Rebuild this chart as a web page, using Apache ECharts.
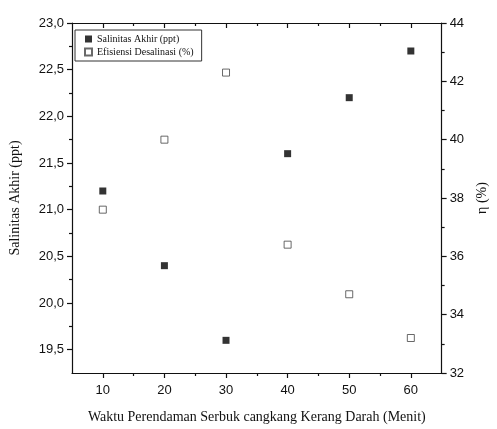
<!DOCTYPE html>
<html>
<head>
<meta charset="utf-8">
<script src="https://cdn.jsdelivr.net/npm/echarts@6/dist/echarts.min.js"></script>
<style>
  html, body { margin: 0; padding: 0; background: #fff; }
  #chart { width: 497px; height: 429px; }
</style>
</head>
<body>
<div id="chart"></div>
<script>
const waktu = [10, 20, 30, 40, 50, 60];
const salinitas = [21.2, 20.4, 19.6, 21.6, 22.2, 22.7];
const efisiensi = [37.6, 40.0, 42.3, 36.4, 34.7, 33.2];

const xMajor = [10, 20, 30, 40, 50, 60];
const xMinor = [15, 25, 35, 45, 55];
const leftMajor = [19.5, 20, 20.5, 21, 21.5, 22, 22.5, 23];
const leftMinor = [19.75, 20.25, 20.75, 21.25, 21.75, 22.25, 22.75];
const rightMajor = [32, 34, 36, 38, 40, 42, 44];
const rightMinor = [33, 35, 37, 39, 41, 43];

const sans = "Liberation Sans";
const serif = "Liberation Serif";
const ink = "#111";

function xAxisDef(position, ticks, len, inside, showLine, labels) {
  return {
    type: "value",
    position,
    min: 5,
    max: 65,
    axisLine: { show: showLine, onZero: false, lineStyle: { color: ink, width: 1.2 } },
    axisTick: { show: true, inside, length: len, customValues: ticks, lineStyle: { color: ink, width: 1.2 } },
    axisLabel: labels
      ? { show: true, customValues: labels, color: ink, fontFamily: sans, fontSize: 13, margin: 11 }
      : { show: false },
    splitLine: { show: false },
  };
}

function yAxisDef(position, min, max, ticks, len, showLine, labels, fmt) {
  return {
    type: "value",
    position,
    min,
    max,
    axisLine: { show: showLine, onZero: false, lineStyle: { color: ink, width: 1.2 } },
    axisTick: { show: true, inside: false, length: len, customValues: ticks, lineStyle: { color: ink, width: 1.2 } },
    axisLabel: labels
      ? { show: true, customValues: labels, color: ink, fontFamily: sans, fontSize: 13, margin: 8, formatter: fmt }
      : { show: false },
    splitLine: { show: false },
  };
}

const chart = echarts.init(document.getElementById("chart"), null, { renderer: "canvas" });

const xAxes = [
  Object.assign(xAxisDef("bottom", xMajor, 5, false, true, xMajor), {
    name: "Waktu Perendaman Serbuk cangkang Kerang Darah (Menit)",
    nameLocation: "middle",
    nameGap: 37,
    nameTextStyle: { color: ink, fontFamily: serif, fontSize: 14 },
  }),
  xAxisDef("bottom", xMinor, 3, false, false, null),
  xAxisDef("top", xMajor, 5, true, true, null),
  xAxisDef("top", xMinor, 3, true, false, null),
];

const yAxes = [
  Object.assign(
    yAxisDef("left", 19.25, 23, leftMajor, 5, true, leftMajor, (v) => v.toFixed(1).replace(".", ",")),
    {
      name: "Salinitas Akhir (ppt)",
      nameLocation: "middle",
      nameRotate: 90,
      nameGap: 50,
      nameTextStyle: { color: ink, fontFamily: serif, fontSize: 14 },
    }
  ),
  yAxisDef("left", 19.25, 23, leftMinor, 3, false, null),
  Object.assign(
    yAxisDef("right", 32, 44, rightMajor, 5, true, rightMajor, (v) => String(v)),
    {
      name: "η (%)",
      nameLocation: "middle",
      nameRotate: 90,
      nameGap: 30,
      nameTextStyle: { color: ink, fontFamily: serif, fontSize: 14 },
    }
  ),
  yAxisDef("right", 32, 44, rightMinor, 3, false, null),
];

chart.setOption({
  animation: false,
  backgroundColor: "#fff",
  grid: { left: 68, right: 45, top: 23, bottom: 54, containLabel: false },
  legend: {
    orient: "vertical",
    left: 75,
    top: 30,
    padding: [4, 8, 4, 9],
    itemGap: 3,
    itemWidth: 7,
    itemHeight: 7,
    borderColor: "#333",
    borderWidth: 1,
    backgroundColor: "#fff",
    textStyle: { color: ink, fontFamily: serif, fontSize: 10 },
    data: ["Salinitas Akhir (ppt)", "Efisiensi Desalinasi (%)"],
  },
  xAxis: xAxes,
  yAxis: yAxes,
  series: [
    {
      name: "Salinitas Akhir (ppt)",
      type: "scatter",
      xAxisIndex: 0,
      yAxisIndex: 0,
      symbol: "rect",
      symbolSize: 7,
      itemStyle: { color: "#000" },
      data: waktu.map((x, i) => [x, salinitas[i]]),
    },
    {
      name: "Efisiensi Desalinasi (%)",
      type: "scatter",
      xAxisIndex: 0,
      yAxisIndex: 2,
      symbol: "rect",
      symbolSize: 7,
      itemStyle: { color: "#fff", borderColor: "#444", borderWidth: 1 },
      data: waktu.map((x, i) => [x, efisiensi[i]]),
    },
  ],
});
</script>
</body>
</html>
